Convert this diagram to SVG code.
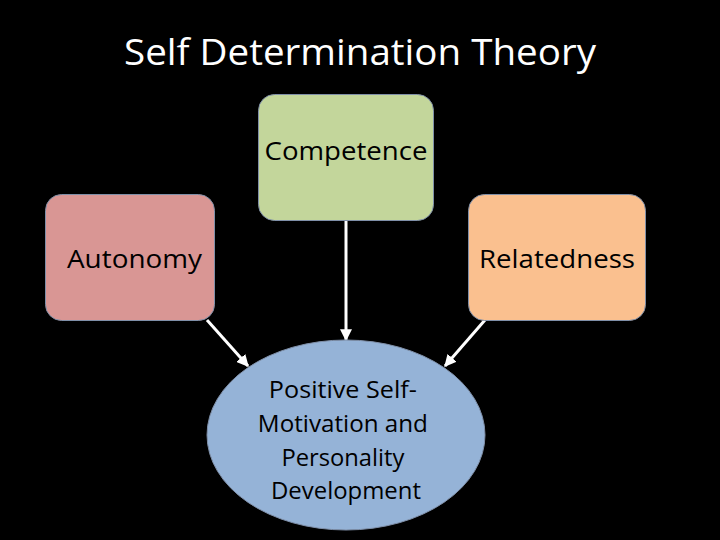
<svg xmlns="http://www.w3.org/2000/svg" width="720" height="540" viewBox="0 0 720 540">
<defs>
<style>
.t{font-family:"Open Sans","Liberation Sans",sans-serif;fill:#000;text-anchor:middle}
.c{stroke:#fff;stroke-width:3;fill:none}
.n{stroke:#7f8fa8;stroke-width:1}
</style>
<marker id="ah" viewBox="0 0 10 10" refX="9" refY="5" markerWidth="4" markerHeight="4" orient="auto" markerUnits="strokeWidth">
<path d="M0,0 L10,5 L0,10 z" fill="#fff"/>
</marker>
</defs>
<rect width="720" height="540" fill="#000"/>
<text x="360" y="65" font-family="Open Sans, Liberation Sans, sans-serif" font-size="37" fill="#fff" text-anchor="middle" textLength="472" lengthAdjust="spacingAndGlyphs">Self Determination Theory</text>
<g id="connectors">
<line class="c" x1="346" y1="221" x2="346" y2="340" marker-end="url(#ah)"/>
<line class="c" x1="207" y1="320" x2="248" y2="366" marker-end="url(#ah)"/>
<line class="c" x1="485" y1="320" x2="445" y2="366" marker-end="url(#ah)"/>
</g>
<g id="competence">
<rect class="n" x="258.5" y="94.5" width="175" height="126" rx="16" fill="#c3d69b"/>
<text class="t" x="346" y="160" font-size="26" textLength="163" lengthAdjust="spacingAndGlyphs">Competence</text>
</g>
<g id="autonomy">
<rect class="n" x="45.5" y="194.5" width="169" height="126" rx="16" fill="#d99694"/>
<text class="t" x="134.5" y="268" font-size="26" textLength="135" lengthAdjust="spacingAndGlyphs">Autonomy</text>
</g>
<g id="relatedness">
<rect class="n" x="468.5" y="194.5" width="177" height="126" rx="16" fill="#fac08f"/>
<text class="t" x="557" y="268" font-size="26" textLength="156" lengthAdjust="spacingAndGlyphs">Relatedness</text>
</g>
<g id="outcome">
<ellipse class="n" cx="346" cy="435" rx="139" ry="95" fill="#95b3d7"/>
<text class="t" font-size="24">
<tspan x="346" y="398" textLength="148" lengthAdjust="spacingAndGlyphs">Positive Self-</tspan>
<tspan x="346" y="432" textLength="170" lengthAdjust="spacingAndGlyphs">Motivation and</tspan>
<tspan x="346" y="466" textLength="123" lengthAdjust="spacingAndGlyphs">Personality</tspan>
<tspan x="346" y="499" textLength="150" lengthAdjust="spacingAndGlyphs">Development</tspan>
</text>
</g>
</svg>
